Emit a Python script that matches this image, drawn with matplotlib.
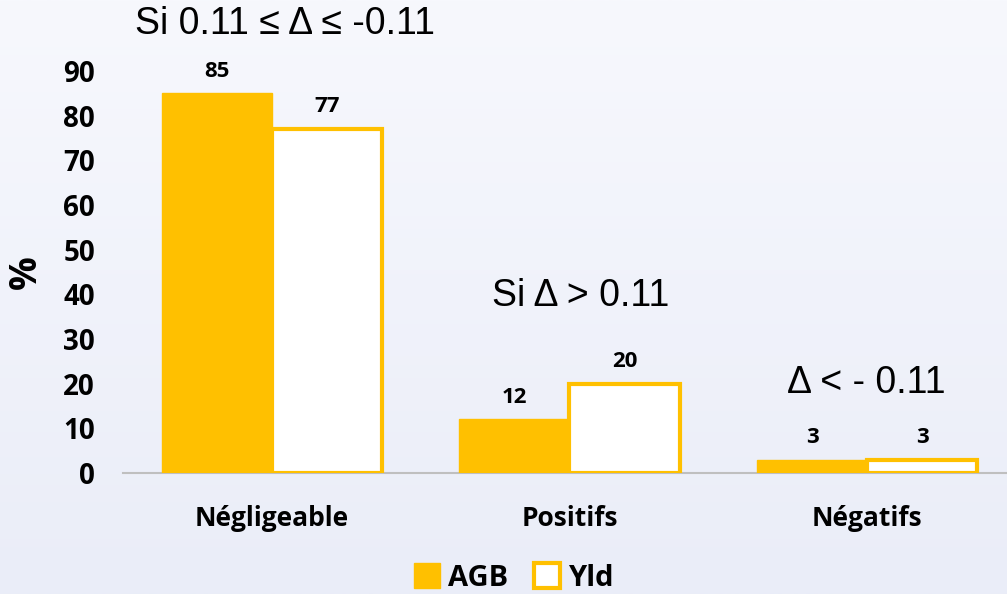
import numpy as np
import matplotlib.pyplot as plt
from matplotlib.patches import Patch

categories = ["Négligeable", "Positifs", "Négatifs"]
agb = [85, 12, 3]
yld = [77, 20, 3]
yticks = [0, 10, 20, 30, 40, 50, 60, 70, 80, 90]

gold = "#FFC000"

fig = plt.figure(figsize=(10.07, 5.94), dpi=100)

# fond en degrade clair
bg = fig.add_axes([0, 0, 1, 1], zorder=-10)
grad = np.linspace(0, 1, 256).reshape(-1, 1)
top_c = np.array([247, 248, 253]) / 255
bot_c = np.array([234, 237, 248]) / 255
img = top_c + grad[..., None] * (bot_c - top_c)
bg.imshow(img, aspect="auto", extent=[0, 1, 0, 1])
bg.axis("off")

ax = fig.add_axes([0.122, 0.2037, 0.887, 0.752])
ax.set_facecolor("none")

x = np.arange(len(categories))
w = 0.37
ax.bar(x - w / 2, agb, w, color=gold, edgecolor=gold, linewidth=1, zorder=3)
ax.bar(x + w / 2, yld, w, color="white", edgecolor=gold, linewidth=3, zorder=3)

for i in range(len(categories)):
    ax.text(x[i] - w / 2, agb[i] + 2.6, str(agb[i]), ha="center", va="bottom",
            fontsize=16, fontweight="bold", family="Open Sans")
    ax.text(x[i] + w / 2, yld[i] + 2.6, str(yld[i]), ha="center", va="bottom",
            fontsize=16, fontweight="bold", family="Open Sans")

ax.set_xlim(-0.5, 2.5)
ax.set_ylim(0, 100)
ax.set_yticks(yticks)
ax.set_yticklabels([str(t) for t in yticks], fontsize=20, fontweight="bold", family="Open Sans")
ax.set_xticks(x)
ax.set_xticklabels(categories, fontsize=19, fontweight="bold", family="Open Sans")
ax.tick_params(axis="both", length=0)
ax.tick_params(axis="y", pad=20)
ax.tick_params(axis="x", pad=23)

for s in ["top", "right", "left"]:
    ax.spines[s].set_visible(False)
ax.spines["bottom"].set_color("#bfbfbf")
ax.spines["bottom"].set_linewidth(1.5)

ax.set_ylabel("%", fontsize=27, fontweight="bold", family="Open Sans")
ax.yaxis.set_label_coords(-0.087, 0.45)

# annotations des seuils
fig.text(285 / 1007, 1 - 24 / 594, "Si 0.11 ≤ Δ ≤ -0.11", ha="center", va="center",
         fontsize=27, family="Liberation Sans")
fig.text(581 / 1007, 1 - 296 / 594, "Si Δ > 0.11", ha="center", va="center",
         fontsize=27, family="Liberation Sans")
fig.text(866 / 1007, 1 - 383 / 594, "Δ < - 0.11", ha="center", va="center",
         fontsize=27, family="Liberation Sans")

handles = [Patch(facecolor=gold, edgecolor=gold, label="AGB"),
           Patch(facecolor="white", edgecolor=gold, linewidth=3, label="Yld")]
fig.legend(handles=handles, loc="center", bbox_to_anchor=(0.51, 1 - 578 / 594), ncol=2,
           frameon=False, handlelength=0.9, handleheight=0.9, handletextpad=0.25,
           columnspacing=0.9, borderaxespad=0,
           prop={"family": "Open Sans", "weight": "bold", "size": 21})

fig.savefig("out.png", dpi=100)
